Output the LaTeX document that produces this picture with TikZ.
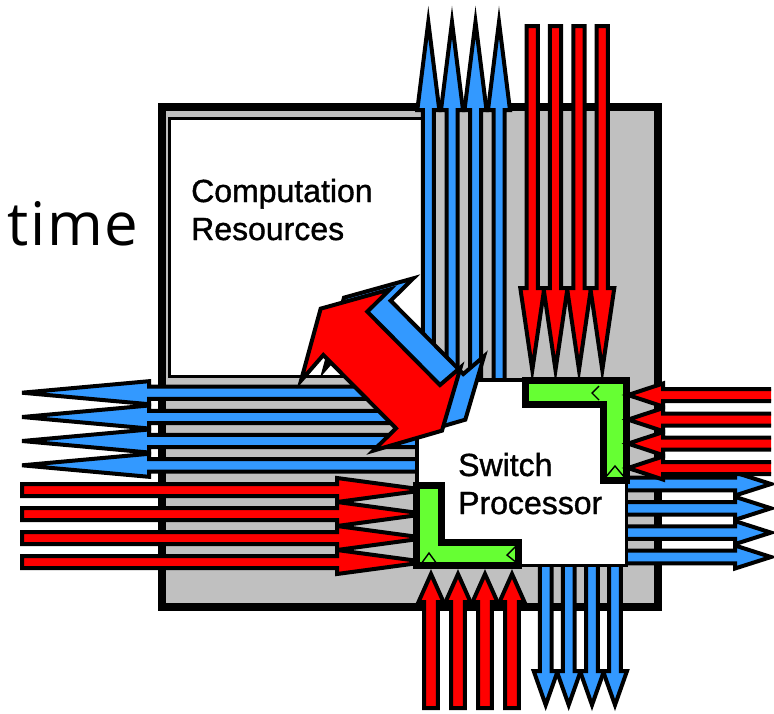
\documentclass[tikz,border=0pt]{standalone}
\usepackage{fontspec}
\setmainfont{Liberation Sans}
\newfontfamily\lblfont[RawFeature={embolden=1.2}]{Liberation Sans}
\newfontfamily\timefont[LetterSpace=3]{Open Sans}
\definecolor{bl}{HTML}{3399FF}
\definecolor{rd}{HTML}{FF0000}
\definecolor{gn}{HTML}{66FF33}
\definecolor{gy}{HTML}{C0C0C0}
\tikzset{
  arrowshape/.style={draw=black,line width=4pt,line join=miter,miter limit=10,fill=#1},
  diagshape/.style={draw=black,line width=4pt,line join=miter,miter limit=20,fill=#1},
  boxline/.style={draw=black,line join=miter},
  lshape/.style={draw=black,line width=7pt,line join=miter,fill=gn},
  chev/.style={draw=black,line width=1.4pt,line join=miter},
  label/.style={font=\lblfont\fontsize{32}{38}\selectfont,align=left,inner sep=0pt,anchor=base west}
}
% tail, base, tip, centre, shaft half, head half, colour
\newcommand{\harr}[7]{\path[arrowshape=#7] (#1,#4-#5) -- (#2,#4-#5) -- (#2,#4-#6) -- (#3,#4) -- (#2,#4+#6) -- (#2,#4+#5) -- (#1,#4+#5) -- cycle;}
\newcommand{\varr}[7]{\path[arrowshape=#7] (#4-#5,#1) -- (#4-#5,#2) -- (#4-#6,#2) -- (#4,#3) -- (#4+#6,#2) -- (#4+#5,#2) -- (#4+#5,#1) -- cycle;}
\begin{document}
\begin{tikzpicture}[x=1pt,y=-1pt]
\useasboundingbox[fill=white] (0,0) rectangle (774,713);
% chip
\path[boxline,fill=gy,line width=8pt] (162,107) rectangle (657.5,606.5);
\path[boxline,fill=white,line width=3pt] (169.5,118.5) rectangle (426,376);
% blue outgoing
\foreach \c in {428.3,452,475.5,499}{\varr{385}{110}{22}{\c}{5.5}{11}{bl}}
\foreach \c in {392.7,417,441,465.3}{\harr{425}{149}{22}{\c}{6.2}{11.5}{bl}}
\foreach \c in {484,508.3,532.6,557}{\harr{620}{735}{771}{\c}{6.3}{11.5}{bl}}
\foreach \c in {545.7,568.7,592,615}{\varr{560}{671}{705}{\c}{5.8}{12}{bl}}
% switch
\path[boxline,fill=white,line width=3.5pt] (417,380) rectangle (626.5,565.5);
% left red and its corner
\foreach \c in {490,514,538,562}{\harr{22}{337}{426}{\c}{6}{12}{rd}}
\path[lshape] (416.5,485.5) -- (441.5,485.5) -- (441.5,542) -- (518.5,542) -- (518.5,565.5) -- (416.5,565.5) -- cycle;
\draw[chev] (421,564) -- (429,553) -- (437,564);
\draw[chev] (517,545) -- (507,555) -- (517,563);
% top right corner
\path[lshape] (525.5,380.5) -- (626.5,380.5) -- (626.5,480.5) -- (603.5,480.5) -- (603.5,404.5) -- (525.5,404.5) -- cycle;
\draw[chev] (599,386) -- (592,393) -- (599,400);
\draw[chev] (605,478) -- (615,466) -- (625,478);
% red incoming
\foreach \c in {532.3,555.5,579,602.3}{\varr{26}{288}{370}{\c}{5.6}{12}{rd}}
\foreach \c in {431,458,485,512}{\varr{708}{602}{574}{\c}{6.8}{12.5}{rd}}
% right red, open at the picture edge
\foreach \c in {395,419.6,443.6,468}{
  \fill[rd] (771,\c-6) -- (663,\c-6) -- (663,\c-11.5) -- (628,\c) -- (663,\c+11.5) -- (663,\c+6) -- (771,\c+6) -- cycle;
  \draw[line width=4pt,line join=miter] (771,\c-6) -- (663,\c-6) -- (663,\c-11.5) -- (628,\c) -- (663,\c+11.5) -- (663,\c+6) -- (771,\c+6);
}
% diagonal double arrow: blue behind, red in front
\begin{scope}[shift={(290,260)},x=0.3333pt,y=-0.3333pt]
\path[diagshape=bl] (162,113) -- (370,55) -- (302,122) -- (520,342) -- (582,289) -- (526,479) -- (320,539) -- (388,472) -- (170,252) -- (103,329) -- cycle;
\path[diagshape=rd] (92,146) -- (300,88) -- (232,155) -- (450,375) -- (512,322) -- (456,512) -- (250,572) -- (318,505) -- (100,285) -- (33,362) -- cycle;
\end{scope}
% text
\node[label] (comp) at (191,202) {Computation};
\node[label] (res) at (191,240) {Resources};
\node[label] (sw) at (458,476) {Switch};
\node[label] (proc) at (458,514) {Processor};
\node[inner sep=0pt,anchor=base west,font=\timefont\fontsize{60}{66}\selectfont] (time) at (7,245) {time};
\end{tikzpicture}
\end{document}
